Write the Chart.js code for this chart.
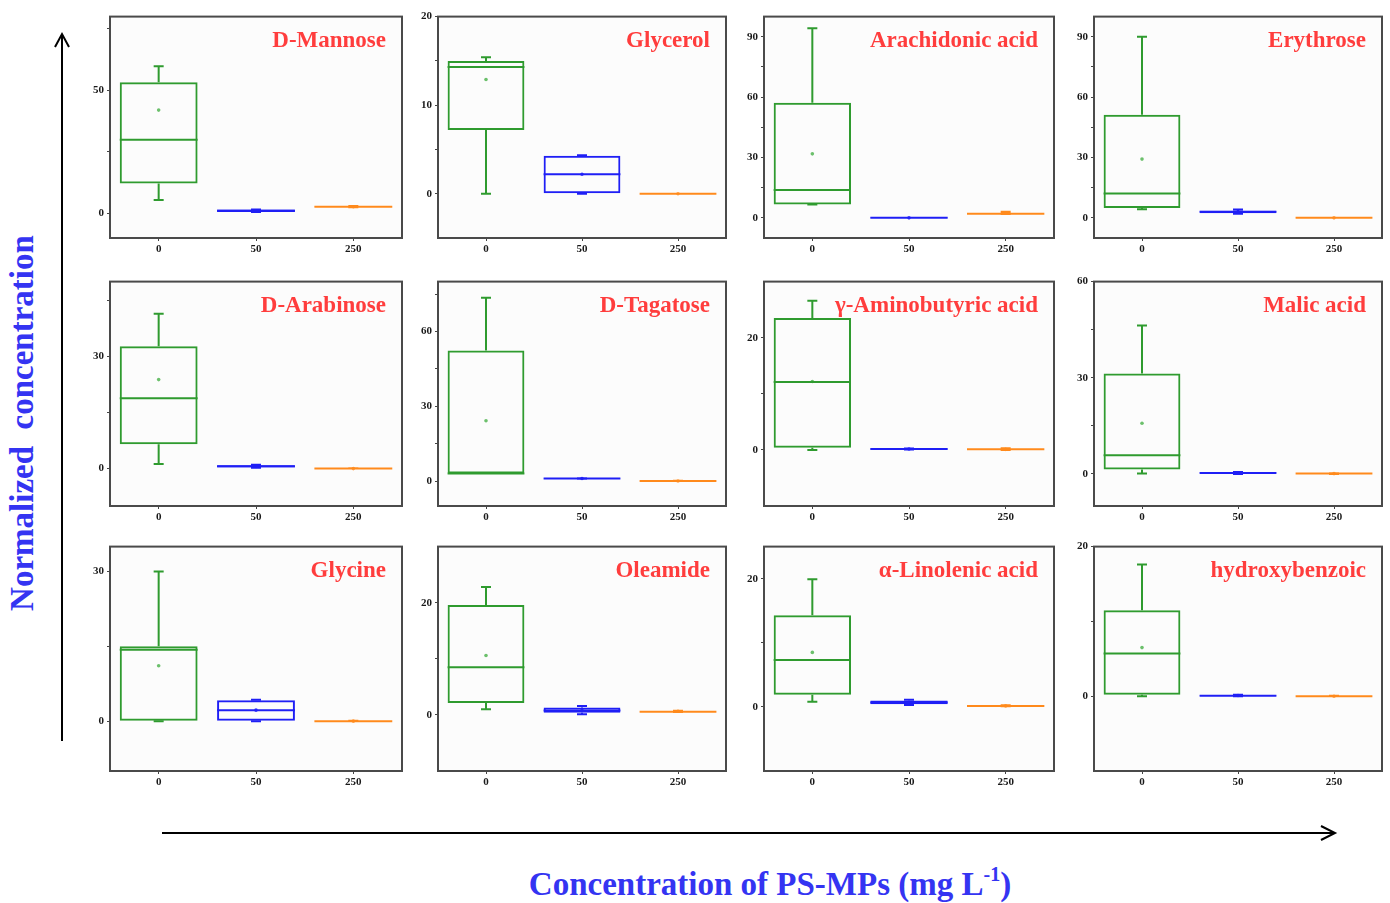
<!DOCTYPE html>
<html>
<head>
<meta charset="utf-8">
<script src="https://cdn.jsdelivr.net/npm/chart.js@4.4.1/dist/chart.umd.min.js"></script>
<style>
  html, body { margin:0; padding:0; background:#ffffff; }
  body { width:1390px; height:903px; position:relative; overflow:hidden; font-family:"Liberation Serif","Times New Roman",serif; }
  canvas.pane { position:absolute; }
  #ytitle { position:absolute; left:22px; top:423px; transform:translate(-50%,-50%) rotate(-90deg); white-space:pre; font-weight:bold; font-size:33px; color:#3434f2; }
  #xtitle { position:absolute; left:770px; top:884px; transform:translate(-50%,-50%); white-space:nowrap; font-weight:bold; font-size:33px; color:#3434f2; }
  #xtitle sup { font-size:20px; vertical-align:14px; line-height:0; }
  svg#arrows { position:absolute; left:0; top:0; }
</style>
</head>
<body>
<svg id="arrows" width="1390" height="903">
  <line x1="62" y1="741" x2="62" y2="34" stroke="#000" stroke-width="2"/>
  <polyline points="55,47 62,34 69,47" fill="none" stroke="#000" stroke-width="2"/>
  <line x1="162" y1="833" x2="1335" y2="833" stroke="#000" stroke-width="2"/>
  <polyline points="1321,826 1335,833 1321,840" fill="none" stroke="#000" stroke-width="2"/>
</svg>
<div id="ytitle">Normalized  concentration</div>
<div id="xtitle">Concentration of PS-MPs (mg L<sup>-1</sup>)</div>
<script>
// ---------- data ----------
const compounds = ['D-Mannose','Glycerol','Arachidonic acid','Erythrose',
                   'D-Arabinose','D-Tagatose','\u03B3-Aminobutyric acid','Malic acid',
                   'Glycine','Oleamide','\u03B1-Linolenic acid','hydroxybenzoic'];
const doses = ['0','50','250'];

const whiskerLow = [[5.4,0.6,2.5],[0,0,0],[6.7,0,1.9],[4.3,2.0,0],
                    [1.2,0.2,0],[3,0.9,0],[0,0.05,0],[0.1,0,0],
                    [0,0,0],[1.0,0.1,0.5],[0.8,0.3,0.1],[0,0,0]];
const boxLow     = [[12.2,0.6,2.6],[7.2,0,0],[6.7,0,2.0],[4.9,2.3,0],
                    [6.5,0.3,0],[3,0.9,0],[0.4,0.05,0.05],[1.4,0.1,0.05],
                    [0,0,0],[2.1,0.4,0.5],[1.9,0.4,0.12],[0.2,0,0]];
const medians    = [[29.9,1.1,2.7],[14.3,2.2,0],[13.8,0,2.1],[12.1,3.0,0],
                    [18.8,0.6,0],[3,1.0,0],[12.1,0.15,0.1],[5.8,0.3,0.1],
                    [14.3,2.2,0],[8.5,0.8,0.55],[7.3,0.7,0.15],[5.7,0.05,0]];
const boxHigh    = [[53.3,1.6,2.8],[15.0,4.3,0],[57.2,0.1,2.2],[51.2,3.6,0.1],
                    [32.7,0.9,0.1],[52.4,1.1,0.1],[23.5,0.25,0.15],[31.3,0.5,0.15],
                    [15.0,4.2,0.1],[19.6,1.3,0.6],[14.3,1.0,0.2],[11.5,0.15,0.05]];
const whiskerHigh= [[59.8,1.6,3.0],[15.4,4.35,0],[94.2,0.1,3.0],[90,4.2,0.1],
                    [41.4,1.0,0.1],[73.5,1.1,0.1],[26.6,0.25,0.3],[46.3,0.6,0.2],
                    [30,4.3,0.1],[22.8,1.6,0.75],[19.9,1.1,0.25],[17.6,0.2,0.05]];
const means      = [[42,1.1,2.7],[12.9,2.2,0],[31.8,0,2.4],[29.2,3.0,0],
                    [23.8,0.6,0],[24.2,1.0,0],[12.2,0.15,0.1],[15.8,0.3,0.1],
                    [11.1,2.2,0],[10.6,0.8,0.65],[8.5,0.7,0.15],[6.5,0.1,0]];

const yMin = [-10,-5,-10,-10, -10,-10,-10,-10, -10,-10,-10,-10];
const yMax = [80,20,100,100, 50,80,30,60, 35,30,25,20];
const majorTicks = [[0,50],[0,10,20],[0,30,60,90],[0,30,60,90],
                    [0,30],[0,30,60],[0,20],[0,30,60],
                    [0,30],[0,20],[0,20],[0,20]];
const minorTicks = [[25,75],[5,15],[15,45,75],[15,45,75],
                    [15,45],[15,45,75],[10],[15,45],
                    [15],[10],[10],[10]];

// ---------- style ----------
const seriesColors = ['#2f9b2f','#1f1ff5','#ff8a1c'];
const meanColors   = ['#6cc06c','#3a3aff','#ffa04a'];
const labelColor   = '#ff3d3d';
const serif = '"Liberation Serif","Times New Roman",serif';

const colLeft  = [110, 438, 764, 1094];
const colWidth = [292, 288, 290, 288];
const rowTop    = [15, 280, 545];
const rowHeight = [223, 226, 226];
const padL = 50, padT = 8, padR = 8, padB = 30;

const framePlugin = {
  id: 'frame',
  beforeDraw(chart) {
    const a = chart.chartArea, ctx = chart.ctx;
    ctx.save();
    ctx.fillStyle = '#fcfcfc';
    ctx.fillRect(a.left, a.top, a.right - a.left, a.bottom - a.top);
    ctx.restore();
  },
  afterDraw(chart) {
    const a = chart.chartArea, ctx = chart.ctx;
    const p = chart.options.plugins.frame.panel;
    ctx.save();
    ctx.strokeStyle = '#4a4a4a';
    ctx.lineWidth = 2;
    ctx.strokeRect(a.left, a.top, a.right - a.left, a.bottom - a.top);
    ctx.font = 'bold 23px ' + serif;
    ctx.fillStyle = labelColor;
    ctx.textAlign = 'right';
    ctx.textBaseline = 'alphabetic';
    ctx.fillText(compounds[p], a.right - 16, a.top + 30);
    ctx.restore();
  }
};

const boxPlugin = {
  id: 'boxExtras',
  afterDatasetsDraw(chart) {
    const p = chart.options.plugins.boxExtras.panel;
    const ctx = chart.ctx, ys = chart.scales.y;
    const meta = chart.getDatasetMeta(0);
    ctx.save();
    meta.data.forEach((bar, i) => {
      const cx = bar.x, hw = bar.width / 2, cap = 5;
      ctx.strokeStyle = seriesColors[i];
      ctx.lineWidth = 2;
      ctx.beginPath();
      const ym = ys.getPixelForValue(medians[p][i]);
      ctx.moveTo(cx - hw, ym); ctx.lineTo(cx + hw, ym);
      const yq3 = ys.getPixelForValue(boxHigh[p][i]);
      const yhi = ys.getPixelForValue(whiskerHigh[p][i]);
      ctx.moveTo(cx, yq3); ctx.lineTo(cx, yhi);
      ctx.moveTo(cx - cap, yhi); ctx.lineTo(cx + cap, yhi);
      const yq1 = ys.getPixelForValue(boxLow[p][i]);
      const ylo = ys.getPixelForValue(whiskerLow[p][i]);
      ctx.moveTo(cx, yq1); ctx.lineTo(cx, ylo);
      ctx.moveTo(cx - cap, ylo); ctx.lineTo(cx + cap, ylo);
      ctx.stroke();
    });
    ctx.restore();
  }
};

for (let p = 0; p < 12; p++) {
  const r = Math.floor(p / 4), c = p % 4;
  const cv = document.createElement('canvas');
  cv.className = 'pane';
  const w = colWidth[c] + padL + padR, h = rowHeight[r] + padT + padB;
  cv.width = w; cv.height = h;
  cv.style.width = w + 'px'; cv.style.height = h + 'px';
  cv.style.left = (colLeft[c] - padL) + 'px';
  cv.style.top = (rowTop[r] - padT) + 'px';
  document.body.appendChild(cv);

  const allTicks = majorTicks[p].concat(minorTicks[p]).sort((a, b) => a - b);

  new Chart(cv, {
    type: 'bar',
    data: {
      labels: doses,
      datasets: [
        {
          type: 'bar',
          data: doses.map((d, i) => [boxLow[p][i], boxHigh[p][i]]),
          backgroundColor: 'rgba(0,0,0,0)',
          borderColor: seriesColors,
          borderWidth: 2,
          borderSkipped: false,
          barPercentage: 0.8,
          categoryPercentage: 1.0
        },
        {
          type: 'line',
          data: means[p],
          showLine: false,
          pointRadius: 1.8,
          pointBorderWidth: 0,
          pointBackgroundColor: meanColors
        }
      ]
    },
    options: {
      responsive: false,
      animation: false,
      devicePixelRatio: 1,
      layout: { padding: { left: 0, top: padT, right: padR, bottom: 0 } },
      plugins: {
        legend: { display: false },
        title: { display: false },
        tooltip: { enabled: false },
        frame: { panel: p },
        boxExtras: { panel: p }
      },
      scales: {
        x: {
          type: 'category',
          offset: true,
          grid: { display: true, offset: false, drawOnChartArea: false, drawTicks: true, tickLength: 3, color: '#444' },
          border: { display: false },
          ticks: { font: { family: serif, size: 11, weight: 'bold' }, color: '#1a1a1a', padding: 2, maxRotation: 0 },
          afterFit(s) { s.height = padB; }
        },
        y: {
          type: 'linear',
          min: yMin[p],
          max: yMax[p],
          afterBuildTicks(s) { s.ticks = allTicks.map(v => ({ value: v })); },
          grid: { display: true, drawOnChartArea: false, drawTicks: true, tickLength: 3, color: '#444' },
          border: { display: false },
          ticks: {
            autoSkip: false,
            font: { family: serif, size: 11, weight: 'bold' },
            color: '#1a1a1a',
            padding: 3,
            callback: (v) => majorTicks[p].includes(v) ? String(v) : ''
          },
          afterFit(s) { s.width = padL; }
        }
      }
    },
    plugins: [framePlugin, boxPlugin]
  });
}
</script>
</body>
</html>
